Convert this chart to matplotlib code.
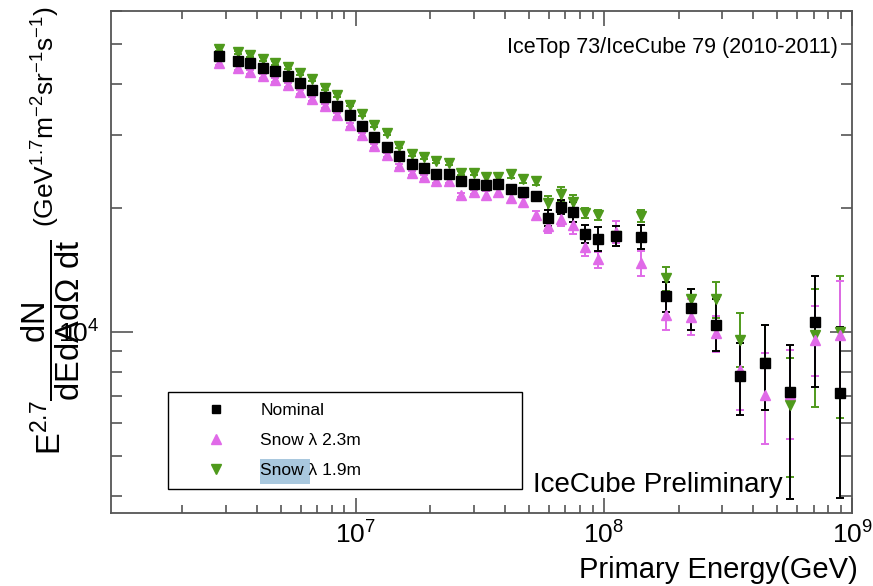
import matplotlib.pyplot as plt
import numpy as np
from matplotlib.lines import Line2D
from matplotlib.patches import Rectangle
from matplotlib.ticker import LogLocator, NullFormatter

plt.rcParams['font.family'] = ['Liberation Sans', 'DejaVu Sans']
plt.rcParams['mathtext.fontset'] = 'custom'
plt.rcParams['mathtext.rm'] = 'Liberation Sans'
plt.rcParams['mathtext.it'] = 'Liberation Sans'
plt.rcParams['mathtext.bf'] = 'Liberation Sans:bold'

# log10(E/GeV) bin centres
log_energy = [6.45, 6.525, 6.575, 6.625, 6.675, 6.725, 6.775, 6.825, 6.875, 6.925,
              6.975, 7.025, 7.075, 7.125, 7.175, 7.225, 7.275, 7.325, 7.375, 7.425,
              7.475, 7.525, 7.575, 7.625, 7.675, 7.725, 7.775, 7.825, 7.875, 7.925,
              7.975, 8.05, 8.15, 8.25, 8.35, 8.45, 8.55, 8.65, 8.75, 8.85, 8.95]

# Nominal
nominal = [46800, 45500, 44800, 43700, 43000, 41700, 40200, 38600, 37100, 35400,
           33500, 31600, 29700, 28100, 26700, 25600, 25000, 24200, 24200, 23200,
           22900, 22700, 22800, 22200, 21900, 21400, 18900, 20100, 19500, 17300,
           16800, 17100, 17000, 12200, 11400, 10400, 7820, 8410, 7150, 10600, 7110]
nominal_lo = [520, 500, 490, 480, 470, 460, 440, 420, 410, 390,
              370, 350, 330, 310, 290, 280, 280, 270, 270, 260,
              250, 500, 500, 490, 480, 470, 830, 770, 1060, 850,
              1090, 930, 1100, 1020, 1300, 1410, 1530, 1940, 3220, 3230, 3160]
nominal_hi = [520, 510, 500, 490, 480, 470, 450, 430, 420, 400,
              380, 350, 330, 310, 300, 290, 280, 270, 270, 260,
              260, 520, 520, 510, 500, 490, 860, 800, 1120, 890,
              1170, 980, 1180, 1010, 1280, 1600, 1590, 1970, 2150, 3100, 3170]

# Snow lambda 2.3 m
snow23 = [44900, 43600, 42800, 41700, 40900, 39800, 38200, 36700, 35300, 33500,
          31800, 30100, 28200, 26800, 25200, 24300, 23700, 23200, 23200, 21500,
          21900, 21500, 21800, 21100, 20700, 19200, 18100, 18800, 18200, 16100,
          15000, 17500, 14700, 11000, 10900, 9930, 8090, 7030, 7070, 9560, 9830]
snow23_lo = [490, 480, 470, 460, 450, 440, 420, 400, 390, 370,
             350, 330, 310, 290, 280, 270, 260, 250, 250, 240,
             240, 470, 480, 460, 450, 420, 720, 750, 910, 800,
             670, 1050, 1030, 910, 1090, 990, 1620, 1690, 1560, 1720, 2560]
snow23_hi = [490, 480, 470, 460, 450, 440, 420, 400, 390, 370,
             350, 330, 310, 290, 280, 270, 260, 250, 250, 240,
             240, 470, 480, 460, 450, 420, 720, 750, 910, 800,
             670, 1050, 1030, 910, 1090, 990, 1620, 1860, 1980, 2010, 3440]

# Snow lambda 1.9 m
snow19 = [48600, 47600, 47000, 45800, 45000, 43900, 42500, 41000, 39000, 37600,
          35600, 33800, 31700, 30400, 28300, 27000, 26500, 25900, 25700, 24300,
          24300, 23700, 23800, 24200, 23500, 23200, 20600, 21600, 20700, 19400,
          19200, 17100, 19100, 13500, 12000, 12000, 9560, 8410, 6650, 9830, 10000]
snow19_lo = [530, 520, 520, 500, 500, 480, 470, 450, 430, 410,
             390, 370, 350, 330, 310, 300, 290, 280, 280, 270,
             270, 520, 520, 530, 520, 510, 820, 870, 830, 540,
             540, 970, 650, 900, 740, 1200, 1340, 1940, 2200, 3240, 3820]
snow19_hi = [530, 520, 520, 500, 500, 480, 470, 450, 430, 410,
             390, 370, 350, 330, 310, 300, 290, 280, 280, 270,
             270, 520, 520, 530, 520, 510, 820, 870, 830, 540,
             540, 970, 650, 900, 740, 1200, 1550, 1970, 1980, 2860, 3680]

energy = 10 ** np.array(log_energy)

black = 'black'
pink = '#e06ae8'
green = '#4f9a1c'
frame = '#555555'

fig = plt.figure(figsize=(8.73, 5.86), dpi=100)
ax = fig.add_axes([0.127, 0.1246, 0.849, 0.8566])
ax.set_xscale('log')
ax.set_yscale('log')

kw = dict(linestyle='none', capsize=3, elinewidth=1.4, capthick=1.4)
ax.errorbar(energy, snow19, yerr=[snow19_lo, snow19_hi], fmt='v', color=green, ms=6.5, **kw)
ax.errorbar(energy, snow23, yerr=[snow23_lo, snow23_hi], fmt='^', color=pink, ms=6.5, **kw)
ax.errorbar(energy, nominal, yerr=[nominal_lo, nominal_hi], fmt='s', color=black, ms=6.5, **kw)

ax.set_xlim(1.03e6, 1e9)
ax.set_ylim(3640, 6.0e4)

ax.xaxis.set_major_locator(LogLocator(base=10, numticks=10))
ax.xaxis.set_minor_locator(LogLocator(base=10, subs=np.arange(2, 10), numticks=10))
ax.xaxis.set_minor_formatter(NullFormatter())
ax.yaxis.set_major_locator(LogLocator(base=10, numticks=10))
ax.yaxis.set_minor_locator(LogLocator(base=10, subs=np.arange(2, 10), numticks=10))
ax.yaxis.set_minor_formatter(NullFormatter())

ax.tick_params(which='both', direction='in', top=True, right=True, color=frame, width=1.2)
ax.xaxis.set_tick_params(which='major', length=11, labelsize=19, pad=6)
ax.xaxis.set_tick_params(which='minor', length=6)
ax.yaxis.set_tick_params(which='major', length=16, labelsize=19, pad=8)
ax.yaxis.set_tick_params(which='minor', length=8)
for s in ax.spines.values():
    s.set_color(frame)
    s.set_linewidth(1.3)

ax.set_xlabel('Primary Energy(GeV)', fontsize=21, ha='right', va='center')
ax.xaxis.set_label_coords(1.008, -0.1135)

# y title: flux factor and units
fig.text(0.058, 0.2235, r'$\mathrm{E^{2.7}\dfrac{dN}{dEdAd\Omega\ dt}}$',
         rotation=90, ha='center', va='bottom', fontsize=23.5)
fig.text(0.053, 0.612, r'(GeV$^{1.7}$m$^{-2}$sr$^{-1}$s$^{-1}$)',
         rotation=90, ha='center', va='bottom', fontsize=19)

ax.text(0.981, 0.928, 'IceTop 73/IceCube 79 (2010-2011)', transform=ax.transAxes,
        ha='right', va='center', fontsize=15.5)
ax.text(0.569, 0.056, 'IceCube Preliminary', transform=ax.transAxes,
        ha='left', va='center', fontsize=20)

# selection highlight behind "Snow"
ax.add_patch(Rectangle((0.2978, 0.1741), 0.0573, 0.0427, transform=fig.transFigure,
                       facecolor='#a9c8de', edgecolor='none', zorder=4))

handles = [Line2D([], [], marker='s', color=black, linestyle='none', ms=6),
           Line2D([], [], marker='^', color=pink, linestyle='none', ms=7),
           Line2D([], [], marker='v', color=green, linestyle='none', ms=7)]
labels = ['Nominal', u'Snow \u03bb 2.3m', u'Snow \u03bb 1.9m']
leg = ax.legend(handles, labels, loc='upper left', bbox_to_anchor=(0.077, 0.05, 0.478, 0.191),
                mode='expand', borderaxespad=0, borderpad=0.62, handlelength=4.3,
                handletextpad=0.4, labelspacing=0.85, fontsize=12.5, fancybox=False,
                edgecolor='black', framealpha=1)
leg.get_frame().set_facecolor('none')
leg.get_frame().set_linewidth(1.0)

fig.savefig('out.png', dpi=100)
